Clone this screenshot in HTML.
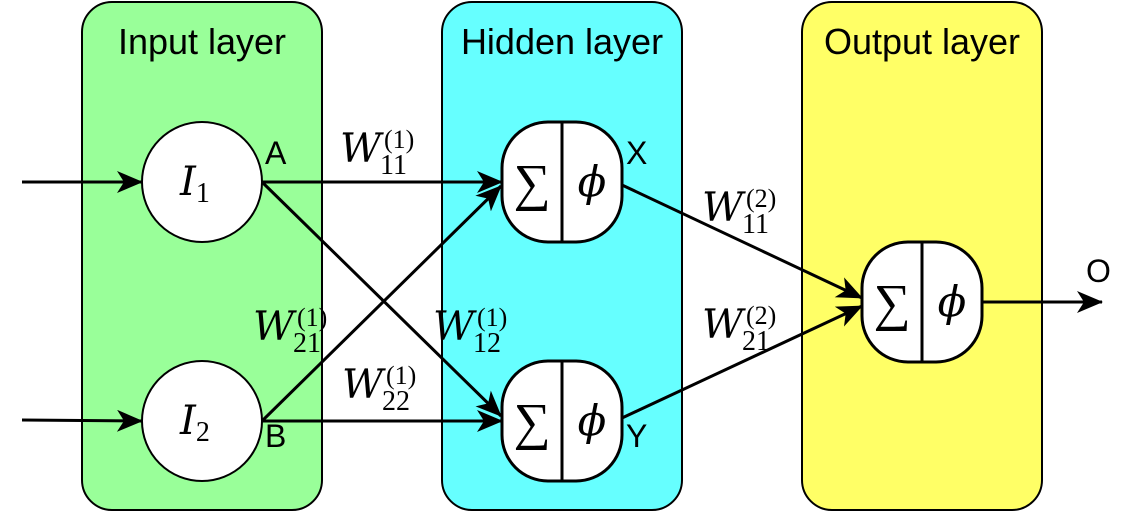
<!DOCTYPE html>
<html><head><meta charset="utf-8"><style>
html,body{margin:0;padding:0;background:#fff;width:1146px;height:513px;overflow:hidden}
svg{display:block}
.t{font-family:"Liberation Sans",sans-serif;fill:#000}
.m{font-family:"DejaVu Serif","Liberation Serif",serif;font-style:italic;fill:#000}
.n{font-family:"Liberation Serif","DejaVu Serif",serif;fill:#000}
</style></head><body>
<svg width="1146" height="513" viewBox="0 0 1146 513">
<defs>
<marker id="ar" markerWidth="26" markerHeight="22" refX="25" refY="11" orient="auto" markerUnits="userSpaceOnUse" viewBox="0 0 26 22">
<path d="M0,0 L26,11 L0,22 L7,11 Z" fill="#000"/>
</marker>
</defs>
<rect x="82" y="2" width="240" height="508" rx="30" fill="#99ff99" stroke="#000" stroke-width="2"/>
<rect x="442" y="2" width="240" height="508" rx="30" fill="#66ffff" stroke="#000" stroke-width="2"/>
<rect x="802" y="2" width="240" height="508" rx="30" fill="#ffff66" stroke="#000" stroke-width="2"/>
<text class="t" style="font-size:36px" x="202" y="54" text-anchor="middle">Input layer</text>
<text class="t" style="font-size:36px" x="562" y="54" text-anchor="middle">Hidden layer</text>
<text class="t" style="font-size:36px" x="922" y="54" text-anchor="middle">Output layer</text>

<g stroke="#000" stroke-width="3" fill="none">
<line x1="22" y1="182" x2="142" y2="182" marker-end="url(#ar)"/>
<line x1="22" y1="420" x2="142" y2="421" marker-end="url(#ar)"/>
<line x1="262" y1="182" x2="502" y2="182" marker-end="url(#ar)"/>
<line x1="262" y1="182" x2="501" y2="416" marker-end="url(#ar)"/>
<line x1="262" y1="421" x2="501" y2="186" marker-end="url(#ar)"/>
<line x1="262" y1="421" x2="502" y2="421" marker-end="url(#ar)"/>
<line x1="622" y1="185" x2="862" y2="298" marker-end="url(#ar)"/>
<line x1="622" y1="418" x2="862" y2="306" marker-end="url(#ar)"/>
<line x1="982" y1="302" x2="1102" y2="302" marker-end="url(#ar)"/>
</g>

<circle cx="202" cy="182" r="60" fill="#fff" stroke="#000" stroke-width="2"/>
<circle cx="202" cy="421" r="60" fill="#fff" stroke="#000" stroke-width="2"/>
<text class="m" style="font-size:40px" x="180" y="195">I<tspan class="n" style="font-style:normal;font-size:28px" dy="7">1</tspan></text>
<text class="m" style="font-size:40px" x="180" y="434">I<tspan class="n" style="font-style:normal;font-size:28px" dy="7">2</tspan></text>

<g>
<rect x="502" y="122" width="120" height="120" rx="46" fill="#fff" stroke="#000" stroke-width="3"/>
<line x1="562" y1="122" x2="562" y2="242" stroke="#000" stroke-width="3"/>
<text class="n" style="font-size:52px" x="532" y="200" text-anchor="middle">∑</text>
<text class="m" style="font-size:42px" x="592" y="196" text-anchor="middle">ϕ</text>
</g>
<g>
<rect x="502" y="361" width="120" height="120" rx="46" fill="#fff" stroke="#000" stroke-width="3"/>
<line x1="562" y1="361" x2="562" y2="481" stroke="#000" stroke-width="3"/>
<text class="n" style="font-size:52px" x="532" y="439" text-anchor="middle">∑</text>
<text class="m" style="font-size:42px" x="592" y="435" text-anchor="middle">ϕ</text>
</g>
<g>
<rect x="862" y="242" width="120" height="120" rx="46" fill="#fff" stroke="#000" stroke-width="3"/>
<line x1="922" y1="242" x2="922" y2="362" stroke="#000" stroke-width="3"/>
<text class="n" style="font-size:52px" x="892" y="320" text-anchor="middle">∑</text>
<text class="m" style="font-size:42px" x="952" y="316" text-anchor="middle">ϕ</text>
</g>

<text class="t" style="font-size:32px" x="265" y="164">A</text>
<text class="t" style="font-size:32px" x="265" y="447">B</text>
<text class="t" style="font-size:32px" x="626" y="164">X</text>
<text class="t" style="font-size:32px" x="626" y="447">Y</text>
<text class="t" style="font-size:32px" x="1086" y="282">O</text>

<g>
<g transform="translate(340,162)"><text class="m" style="font-size:40px" x="0" y="0">W</text><text class="n" style="font-size:28px" x="40" y="12">11</text><text class="n" style="font-size:26px" x="44" y="-14">(1)</text></g>
<g transform="translate(253,340)"><text class="m" style="font-size:40px" x="0" y="0">W</text><text class="n" style="font-size:28px" x="40" y="12">21</text><text class="n" style="font-size:26px" x="44" y="-14">(1)</text></g>
<g transform="translate(433,340)"><text class="m" style="font-size:40px" x="0" y="0">W</text><text class="n" style="font-size:28px" x="40" y="12">12</text><text class="n" style="font-size:26px" x="44" y="-14">(1)</text></g>
<g transform="translate(342,398)"><text class="m" style="font-size:40px" x="0" y="0">W</text><text class="n" style="font-size:28px" x="40" y="12">22</text><text class="n" style="font-size:26px" x="44" y="-14">(1)</text></g>
<g transform="translate(702,221)"><text class="m" style="font-size:40px" x="0" y="0">W</text><text class="n" style="font-size:28px" x="40" y="12">11</text><text class="n" style="font-size:26px" x="44" y="-14">(2)</text></g>
<g transform="translate(702,338)"><text class="m" style="font-size:40px" x="0" y="0">W</text><text class="n" style="font-size:28px" x="40" y="12">21</text><text class="n" style="font-size:26px" x="44" y="-14">(2)</text></g>
</g>
</svg>
</body></html>
